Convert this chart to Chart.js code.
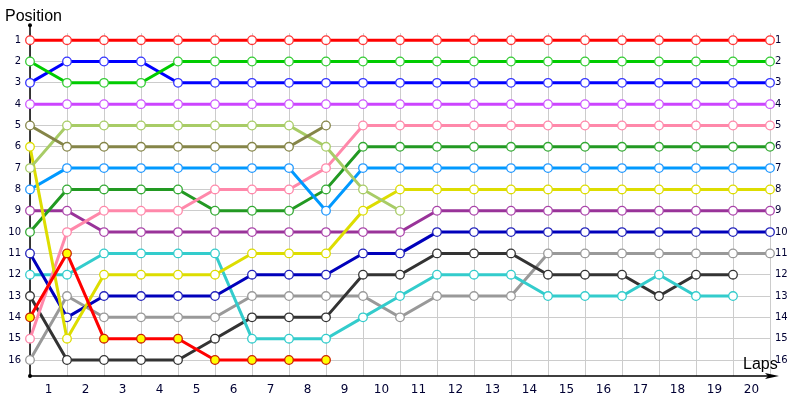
<!DOCTYPE html>
<html><head><meta charset="utf-8">
<script src="https://cdn.jsdelivr.net/npm/chart.js@4/dist/chart.umd.min.js"></script>
<style>html,body{margin:0;padding:0;background:#fff}#wrap{width:800px;height:400px;position:relative}</style>
</head><body><div id="wrap"><canvas id="c"></canvas></div>
<script>
// ---- data ----
const laps = [0,1,2,3,4,5,6,7,8,9,10,11,12,13,14,15,16,17,18,19,20];
const lapLabels = ['1','2','3','4','5','6','7','8','9','10','11','12','13','14','15','16','17','18','19','20'];
const positionLabels = [1,2,3,4,5,6,7,8,9,10,11,12,13,14,15,16];

const redLeader   = [1,1,1,1,1,1,1,1,1,1,1,1,1,1,1,1,1,1,1,1,1];
const brightGreen = [2,3,3,3,2,2,2,2,2,2,2,2,2,2,2,2,2,2,2,2,2];
const blue        = [3,2,2,2,3,3,3,3,3,3,3,3,3,3,3,3,3,3,3,3,3];
const violet      = [4,4,4,4,4,4,4,4,4,4,4,4,4,4,4,4,4,4,4,4,4];
const olive       = [5,6,6,6,6,6,6,6,5];
const lightGreen  = [7,5,5,5,5,5,5,5,6,8,9];
const yellow      = [6,15,12,12,12,12,11,11,11,9,8,8,8,8,8,8,8,8,8,8,8];
const skyBlue     = [8,7,7,7,7,7,7,7,9,7,7,7,7,7,7,7,7,7,7,7,7];
const pink        = [15,10,9,9,9,8,8,8,7,5,5,5,5,5,5,5,5,5,5,5,5];
const darkGreen   = [10,8,8,8,8,9,9,9,8,6,6,6,6,6,6,6,6,6,6,6,6];
const purple      = [9,9,10,10,10,10,10,10,10,10,10,9,9,9,9,9,9,9,9,9,9];
const darkBlue    = [11,14,13,13,13,13,12,12,12,11,11,10,10,10,10,10,10,10,10,10,10];
const cyan        = [12,12,11,11,11,11,15,15,15,14,13,12,12,12,13,13,13,12,13,13];
const darkGrey    = [13,16,16,16,16,15,14,14,14,12,12,11,11,11,12,12,12,13,12,12];
const grey        = [16,13,14,14,14,14,13,13,13,13,14,13,13,13,11,11,11,11,11,11,11];
const redYellow   = [14,11,15,15,15,16,16,16,16];

const series = [
  ['redYellow', redYellow, '#ff0000', '#ffff00', '#cc2200'],
  ['redLeader', redLeader, '#ff0000', '#ffffff', '#ff3333'],
  ['brightGreen', brightGreen, '#00cc00', '#ffffff', '#33cc33'],
  ['blue', blue, '#0000ff', '#ffffff', '#3333ff'],
  ['violet', violet, '#cc44ff', '#ffffff', '#cc55ff'],
  ['olive', olive, '#858548', '#ffffff', '#858548'],
  ['lightGreen', lightGreen, '#a8cc66', '#ffffff', '#a8cc66'],
  ['yellow', yellow, '#dddd00', '#ffffff', '#dddd00'],
  ['skyBlue', skyBlue, '#0099ff', '#ffffff', '#2299ff'],
  ['pink', pink, '#ff88aa', '#ffffff', '#ff88aa'],
  ['darkGreen', darkGreen, '#229922', '#ffffff', '#33aa33'],
  ['purple', purple, '#993399', '#ffffff', '#aa44aa'],
  ['darkBlue', darkBlue, '#0000bb', '#ffffff', '#2222bb'],
  ['cyan', cyan, '#33cccc', '#ffffff', '#33cccc'],
  ['darkGrey', darkGrey, '#333333', '#ffffff', '#333333'],
  ['grey', grey, '#999999', '#ffffff', '#999999']
];

const datasets = series.map(([name, vals, col, fill, pb]) => ({
  label: name,
  data: vals.map((v, i) => ({x: laps[i], y: v})),
  borderColor: col,
  backgroundColor: col,
  borderWidth: 3,
  pointRadius: 4.3,
  pointBorderWidth: 1.3,
  pointBackgroundColor: fill,
  pointBorderColor: pb,
  tension: 0,
  clip: false
}));

const decor = {
  id: 'decor',
  beforeDatasetsDraw(chart) {
    const {ctx, chartArea: a} = chart;
    ctx.save();
    ctx.strokeStyle = '#000';
    ctx.lineWidth = 1.5;
    ctx.beginPath();
    ctx.moveTo(a.left, a.bottom); ctx.lineTo(a.left, a.top - 8);
    ctx.moveTo(a.left, a.bottom); ctx.lineTo(a.right, a.bottom);
    ctx.stroke();
    ctx.fillStyle = '#000';
    ctx.beginPath();
    ctx.moveTo(a.right + 9, a.bottom);
    ctx.lineTo(a.right - 5, a.bottom - 3);
    ctx.lineTo(a.right - 2, a.bottom);
    ctx.lineTo(a.right - 5, a.bottom + 3);
    ctx.closePath(); ctx.fill();
    ctx.beginPath(); ctx.arc(a.left, a.top - 8, 2, 0, Math.PI * 2); ctx.fill();
    ctx.beginPath(); ctx.arc(a.left, a.bottom, 2, 0, Math.PI * 2); ctx.fill();
    ctx.restore();
  },
  afterDraw(chart) {
    const {ctx, chartArea: a} = chart;
    ctx.save();
    ctx.fillStyle = '#000';
    ctx.font = '16px "Liberation Sans"';
    ctx.textAlign = 'left';
    ctx.textBaseline = 'alphabetic';
    ctx.fillText('Laps', a.right - 27, a.bottom - 7);
    ctx.restore();
  }
};

const yTicks = s => { s.ticks = positionLabels.map(v => ({value: v})); };

new Chart(document.getElementById('c'), {
  type: 'line',
  data: {datasets},
  plugins: [decor],
  options: {
    responsive: true,
    maintainAspectRatio: false,
    animation: false,
    layout: {padding: {left: 5, right: 0, top: 0, bottom: 0}},
    plugins: {
      legend: {display: false},
      tooltip: {enabled: false},
      title: {
        display: true, text: 'Position', align: 'start', color: '#000',
        font: {family: 'Liberation Sans', size: 16, weight: 'normal'},
        padding: {top: 7, bottom: 7}
      }
    },
    scales: {
      x: {
        type: 'linear', min: 0, max: 20,
        afterBuildTicks: s => { s.ticks = laps.map(v => ({value: v})); },
        afterFit: s => { s.height = 24; },
        grid: {color: '#cccccc', lineWidth: 1, drawTicks: false},
        border: {display: false},
        ticks: {
          autoSkip: false, maxRotation: 0, padding: 7, labelOffset: -18.5,
          color: '#000033', font: {family: 'DejaVu Sans', size: 12},
          callback: (v, i) => i === 0 ? '' : lapLabels[i - 1]
        }
      },
      y: {
        type: 'linear', position: 'left', reverse: true, min: 0.672, max: 16.75,
        afterBuildTicks: yTicks,
        afterFit: s => { s.width = 25; },
        grid: {color: '#cccccc', lineWidth: 1, drawTicks: false},
        border: {display: false},
        ticks: {autoSkip: false, padding: 9, color: '#000033', font: {family: 'DejaVu Sans', size: 10}}
      },
      y2: {
        type: 'linear', position: 'right', reverse: true, min: 0.672, max: 16.75,
        afterBuildTicks: yTicks,
        afterFit: s => { s.width = 30; },
        grid: {display: false, drawTicks: false},
        border: {display: false},
        ticks: {autoSkip: false, padding: 5, color: '#000033', font: {family: 'DejaVu Sans', size: 10}}
      }
    }
  }
});
</script>
</body></html>
